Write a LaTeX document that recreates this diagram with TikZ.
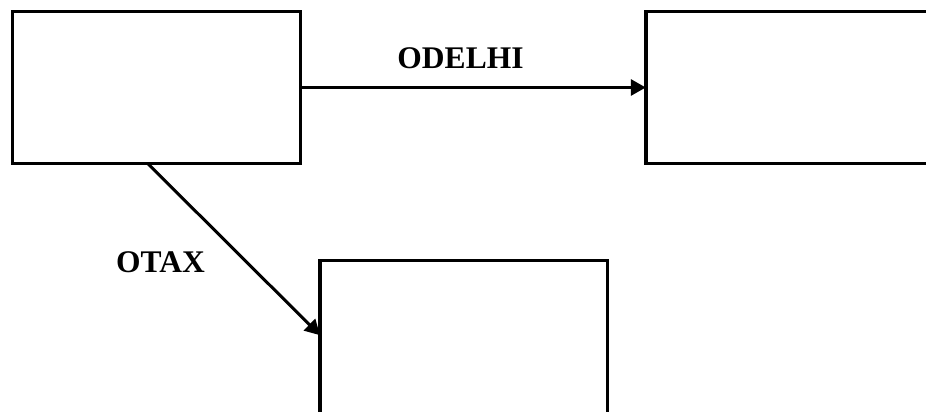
\documentclass[tikz,border=0pt]{standalone}
\usepackage{fontspec}
\setmainfont{Liberation Serif}
\usetikzlibrary{arrows.meta,calc}
\tikzset{
  box/.style={draw=black, line width=3.5pt, rectangle, fill=white, inner sep=0pt, outer sep=0pt},
  conn/.style={line width=3pt, -{Triangle[length=15pt,width=16pt]}},
  lbl/.style={font=\bfseries\fontsize{31.5}{38}\selectfont, anchor=base, inner sep=0pt}
}
\begin{document}
\begin{tikzpicture}[x=1pt,y=-1pt]
\useasboundingbox (0,0) rectangle (926,412);
\clip (0,0) rectangle (926,412);
\fill[white] (0,0) rectangle (926,412);
\node[box, minimum width=288pt, minimum height=152.4pt] (b1) at (156.4,87.5) {};
\node[box, minimum width=300pt, minimum height=152.4pt] (b2) at (795.8,87.5) {};
\node[box, minimum width=287.3pt, minimum height=200pt] (b3) at (463.65,360.7) {};
\coordinate (s2) at ($(b1.south west)+(135.5pt,0)$);
\coordinate (e2) at ($(b3.north west)+(0,-74.5pt)$);
\draw[conn] (b1.east) -- (b2.west);
\draw[conn] (s2) -- (e2);
\node[lbl] (l1) at (460.5,69) {ODELHI};
\node[lbl] (l2) at (160.5,272.3) {OTAX};
\end{tikzpicture}
\end{document}
